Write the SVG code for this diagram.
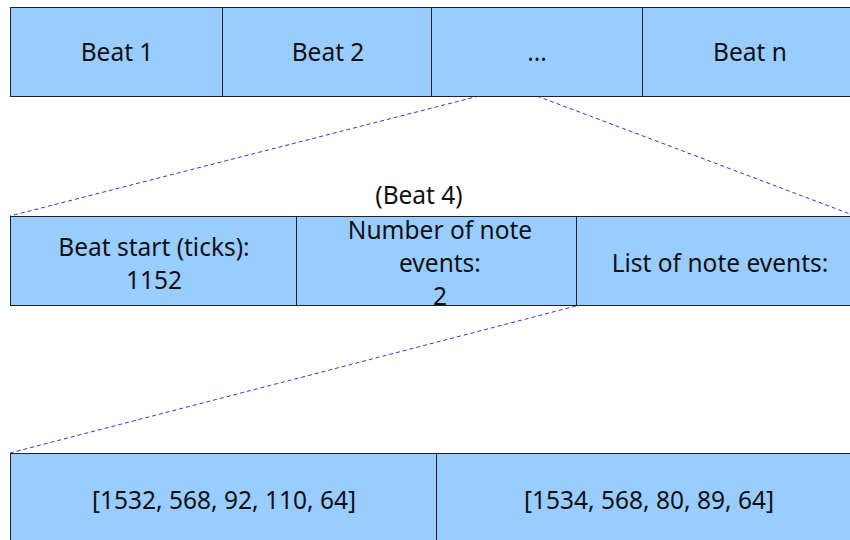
<svg xmlns="http://www.w3.org/2000/svg" width="850" height="540" viewBox="0 0 850 540">
<style>
.cell{fill:#99ccff;stroke:#222;stroke-width:1}
.t{font-family:"Noto Sans","Open Sans",sans-serif;font-size:24.5px;fill:#111;text-anchor:middle}
.c{fill:none;stroke:#3333ee;stroke-width:1;stroke-dasharray:4,3}
</style>
<rect width="850" height="540" fill="#fff"/>
<g id="connectors">
<line class="c" x1="479" y1="96" x2="10" y2="216"/>
<line class="c" x1="537" y1="96" x2="850" y2="214"/>
<line class="c" x1="576" y1="306" x2="10" y2="453"/>
</g>
<g id="beat1"><rect class="cell" x="10.5" y="7.5" width="212" height="89"/><text class="t" x="117" y="61">Beat 1</text></g>
<g id="beat2"><rect class="cell" x="222.5" y="7.5" width="209" height="89"/><text class="t" x="328" y="61">Beat 2</text></g>
<g id="beatdots"><rect class="cell" x="431.5" y="7.5" width="211" height="89"/><text class="t" x="537" y="61">...</text></g>
<g id="beatn"><rect class="cell" x="642.5" y="7.5" width="218" height="89"/><text class="t" x="750" y="61">Beat n</text></g>
<g id="beat4label"><text class="t" x="419" y="204">(Beat 4)</text></g>
<g id="beatstart"><rect class="cell" x="10.5" y="216.5" width="286" height="89"/><text class="t" x="154" y="256">Beat start (ticks):</text><text class="t" x="154" y="289">1152</text></g>
<g id="numevents"><rect class="cell" x="296.5" y="216.5" width="280" height="89"/><text class="t" x="440" y="239">Number of note</text><text class="t" x="440" y="272">events:</text><text class="t" x="440" y="305">2</text></g>
<g id="listevents"><rect class="cell" x="576.5" y="216.5" width="288" height="89"/><text class="t" x="720" y="272">List of note events:</text></g>
<g id="event1"><rect class="cell" x="10.5" y="453.5" width="426" height="100"/><text class="t" x="224" y="509">[1532, 568, 92, 110, 64]</text></g>
<g id="event2"><rect class="cell" x="436.5" y="453.5" width="426" height="100"/><text class="t" x="649" y="509">[1534, 568, 80, 89, 64]</text></g>
</svg>
